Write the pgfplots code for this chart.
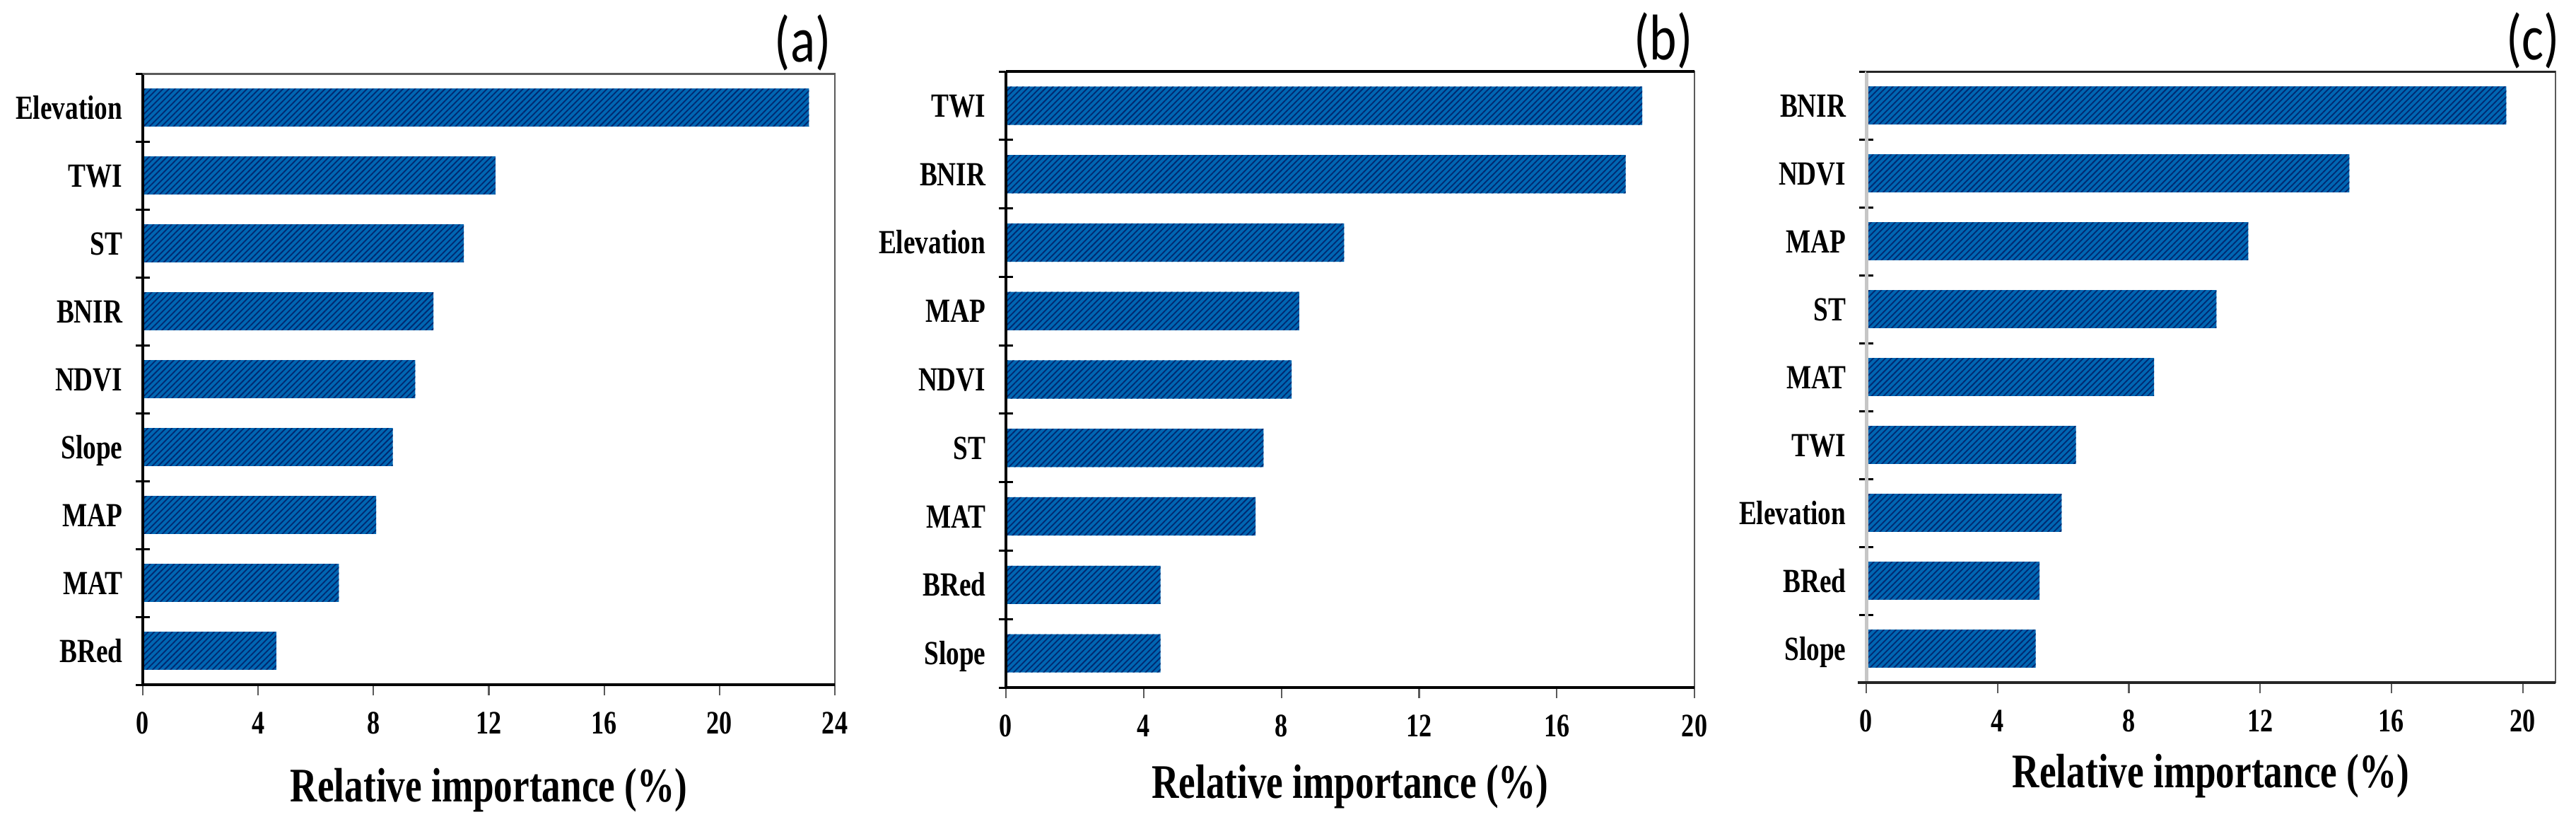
\documentclass[border=0pt]{standalone}
\usepackage{fontspec}
\setmainfont{Liberation Serif}[FakeStretch=0.78]
\newfontfamily\labfont{Carlito}[FakeStretch=0.8]
\usepackage{pgfplots}
\pgfplotsset{compat=1.18}
\usetikzlibrary{patterns.meta}
\definecolor{barblue}{RGB}{0,102,178}
\definecolor{hatchc}{RGB}{0,40,112}
\definecolor{framec}{RGB}{90,90,90}

\pgfplotsset{
  imp/.style={
    scale only axis,
    anchor=south west,
    xbar, bar width=0.56, bar shift=0pt,
    y dir=reverse,
    ymin=-0.5, ymax=8.5,
    xmin=0,
    enlargelimits=false,
    ytick={0,...,8},
    minor ytick={-0.5,0.5,...,8.5},
    major tick length=0pt,
    minor tick length=2mm,
    ytick pos=left,
    xtick pos=bottom,
    yticklabel pos=left,
    xticklabel pos=bottom,
    tick align=center,
    every minor tick/.style={line width=0.3mm, black},
    /pgf/number format/assume math mode=true,
    yticklabel style={font=\fontsize{13.6}{16}\selectfont\bfseries, anchor=base east, inner sep=0pt, xshift=-2.8mm, yshift=-1.6mm},
    xticklabel style={font=\fontsize{13.2}{16}\selectfont\bfseries, anchor=base, inner sep=0pt, yshift=-6.9mm},
    xlabel={Relative importance (\%)},
    xlabel style={font=\fontsize{19.4}{22}\selectfont\bfseries, anchor=base, at={(axis description cs:0.5,0)}},
    axis line style={line width=0.25mm, framec},
    clip=false,
  },
  xticks/.style={
    extra x ticks={#1},
    extra x tick labels={},
    extra x tick style={major tick length=1.5mm, tick align=outside, /pgfplots/every tick/.style={line width=0.22mm, framec}},
  },
  barsty/.style={fill=barblue, draw=none, postaction={pattern={Lines[angle=45,distance=0.6mm,line width=0.18mm]}, pattern color=hatchc}},
}

\begin{document}
\begin{tikzpicture}
\path[use as bounding box] (0,0) rectangle (364.4mm,117.1mm);

% (a)
\begin{axis}[imp, at={(20.2mm,20.3mm)}, width=97.9mm, height=86.4mm,
  xmax=24, xtick={0,4,...,24}, xticks={0,4,...,24},
  yticklabels={Elevation,TWI,ST,BNIR,NDVI,Slope,MAP,MAT,BRed},
  xlabel style={yshift=-16.5mm}]
\addplot[barsty] coordinates {(23.1,0) (12.23,1) (11.13,2) (10.08,3) (9.45,4) (8.67,5) (8.09,6) (6.8,7) (4.63,8)};
\draw[line width=0.35mm, black] (rel axis cs:0,1) -- (rel axis cs:0,0) -- (rel axis cs:1,0);
\draw[line width=0.3mm, framec] (rel axis cs:0,1) -- (rel axis cs:1,1);
\node[font=\fontsize{26}{30}\selectfont\labfont, anchor=south east, inner sep=0pt, xshift=-0.5mm, yshift=0.3mm] at (rel axis cs:1,1) {(a)};
\end{axis}

% (b)
\begin{axis}[imp, at={(142.3mm,19.9mm)}, width=97.4mm, height=87.1mm,
  xmax=20, xtick={0,4,...,20}, xticks={0,4,...,20},
  yticklabels={TWI,BNIR,Elevation,MAP,NDVI,ST,MAT,BRed,Slope},
  xlabel style={yshift=-15.6mm}]
\addplot[barsty] coordinates {(18.48,0) (18.0,1) (9.82,2) (8.52,3) (8.3,4) (7.48,5) (7.25,6) (4.49,7) (4.49,8)};
\draw[line width=0.35mm, black] (rel axis cs:0,1) -- (rel axis cs:0,0) -- (rel axis cs:1,0);
\draw[line width=0.35mm, black] (rel axis cs:0,1) -- (rel axis cs:1,1);
\node[font=\fontsize{26}{30}\selectfont\labfont, anchor=south east, inner sep=0pt, xshift=-0.2mm, yshift=0.3mm] at (rel axis cs:1,1) {(b)};
\end{axis}

% (c)
\begin{axis}[imp, at={(264.0mm,20.6mm)}, width=97.5mm, height=86.4mm,
  xmax=21, xtick={0,4,...,20}, xticks={0,4,...,20},
  yticklabels={BNIR,NDVI,MAP,ST,MAT,TWI,Elevation,BRed,Slope},
  xlabel style={yshift=-14.8mm}]
\addplot[barsty] coordinates {(19.5,0) (14.72,1) (11.64,2) (10.67,3) (8.77,4) (6.39,5) (5.95,6) (5.28,7) (5.16,8)};
\draw[line width=0.5mm, gray!45] (rel axis cs:0,1) -- (rel axis cs:0,0);
\draw[line width=0.35mm, black!85] (rel axis cs:-0.012,0) -- (rel axis cs:1,0);
\draw[line width=0.3mm, black!85] (rel axis cs:0,1) -- (rel axis cs:1,1);
\node[font=\fontsize{26}{30}\selectfont\labfont, anchor=south east, inner sep=0pt, xshift=0.6mm, yshift=0.3mm] at (rel axis cs:1,1) {(c)};
\end{axis}
\end{tikzpicture}
\end{document}
